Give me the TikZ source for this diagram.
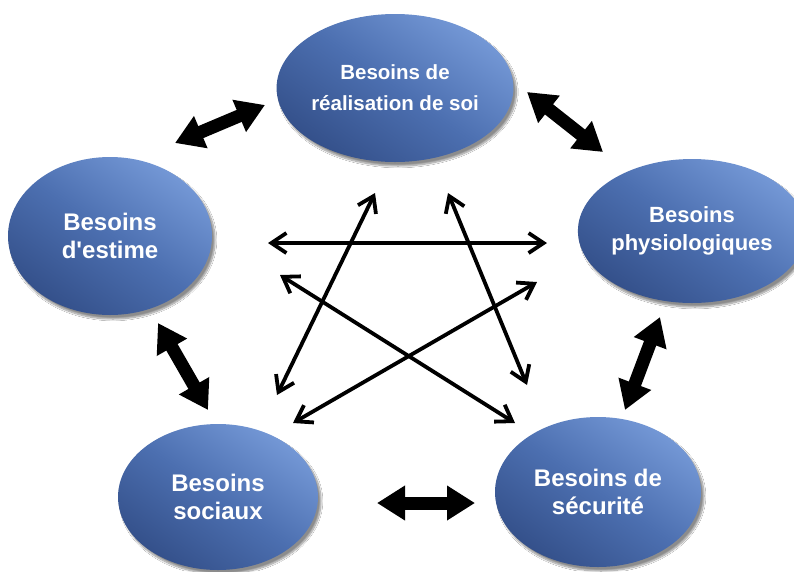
\documentclass[tikz,border=0pt]{standalone}
\usepackage{fontspec}
\newfontfamily\besoinfont{Liberation Sans}
\usepackage{tikz}
\usetikzlibrary{arrows.meta,shapes.geometric,shadows.blur}

\definecolor{besoinclair}{RGB}{116,152,214}
\definecolor{besoinmoyen}{RGB}{76,111,176}
\definecolor{besoinfonce}{RGB}{52,80,138}

\tikzset{
  besoin/.style={ellipse, draw=none, inner sep=0pt, align=center, text=white,
    top color=besoinclair, bottom color=besoinfonce, middle color=besoinmoyen,
    shading angle=-35,
    font=\besoinfont\bfseries\fontsize{24}{28}\selectfont,
    blur shadow={shadow xshift=3pt, shadow yshift=-4pt, shadow blur steps=10, shadow opacity=45}},
  lien/.style={line width=13pt,
    {Triangle[width=33pt,length=28pt]}-{Triangle[width=33pt,length=28pt]}},
  relation/.style={line width=3.8pt,
    {Straight Barb[length=15pt,width=20pt]}-{Straight Barb[length=15pt,width=20pt]}},
}

\begin{document}
\begin{tikzpicture}[x=1pt,y=-1pt]
\fill[white] (0,0) rectangle (794,571);
\useasboundingbox (0,0) rectangle (794,571);

% les cinq besoins
\node[besoin, minimum width=198pt, minimum height=148pt,
  font=\besoinfont\bfseries\fontsize{20.5}{31}\selectfont] (realisation) at (395,88)
  {Besoins de\\réalisation de soi};
\node[besoin, minimum width=204pt, minimum height=158pt] (estime) at (110,236)
  {Besoins\\d'estime};
\node[besoin, minimum width=203pt, minimum height=144pt,
  font=\besoinfont\bfseries\fontsize{22}{28}\selectfont] (physio) at (692,231)
  {Besoins\\physiologiques};
\node[besoin, minimum width=200pt, minimum height=146pt] (sociaux) at (218,497)
  {Besoins\\sociaux};
\node[besoin, minimum width=206pt, minimum height=150pt] (securite) at (598,492)
  {Besoins de\\sécurité};

% extremites des grosses fleches
\coordinate (estimeR) at (175,143);
\coordinate (realE) at (265,105);
\coordinate (realP) at (527,92);
\coordinate (physioR) at (603,152);
\coordinate (physioS) at (660,317);
\coordinate (secuP) at (625,410);
\coordinate (secuS) at (475,503);
\coordinate (sociauxS) at (377,503);
\coordinate (sociauxE) at (208,410);
\coordinate (estimeSo) at (158,323);

\foreach \u/\v in {estimeR/realE, realP/physioR, physioS/secuP,
                   secuS/sociauxS, sociauxE/estimeSo}
  \draw[lien] (\u) -- (\v);

% etoile du centre
\coordinate (eP) at (268,243);
\coordinate (pE) at (547,243);
\coordinate (rSo) at (375,193);
\coordinate (soR) at (277,395);
\coordinate (rSe) at (448,193);
\coordinate (seR) at (527,385);
\coordinate (eSe) at (280,275);
\coordinate (seE) at (515,423);
\coordinate (pSo) at (537,282);
\coordinate (soP) at (293,423);

\foreach \u/\v in {eP/pE, rSo/soR, rSe/seR, eSe/seE, pSo/soP}
  \draw[relation] (\u) -- (\v);
\end{tikzpicture}
\end{document}
